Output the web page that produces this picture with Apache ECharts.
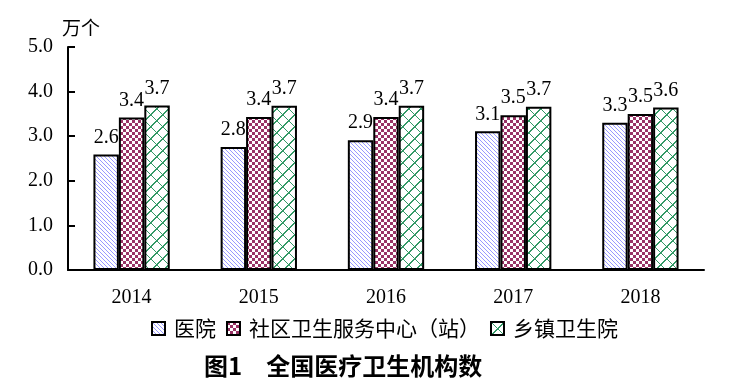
<!DOCTYPE html>
<html><head><meta charset="utf-8">
<script src="https://cdn.jsdelivr.net/npm/echarts@6/dist/echarts.min.js"></script>
<style>html,body{margin:0;padding:0;background:#fff}#c{width:737px;height:390px}</style>
</head><body><div id="c"></div>
<script>
const categories = ['2014','2015','2016','2017','2018'];
const hospitals = [2.59, 2.76, 2.91, 3.11, 3.30];
const community = [3.42, 3.43, 3.43, 3.47, 3.50];
const township = [3.69, 3.68, 3.68, 3.66, 3.646];
const yTicks = [0, 1, 2, 3, 4, 5];
const seriesNames = ['医院', '社区卫生服务中心（站）', '乡镇卫生院'];

function tile(w, h, fg, test) {
  const c = document.createElement('canvas');
  c.width = w; c.height = h;
  const g = c.getContext('2d');
  g.fillStyle = '#fff'; g.fillRect(0, 0, w, h);
  g.fillStyle = fg;
  for (let y = 0; y < h; y++) for (let x = 0; x < w; x++) if (test(x, y)) g.fillRect(x, y, 1, 1);
  return { image: c, repeat: 'repeat' };
}
const patHosp = tile(8, 8, '#9999ff', (x, y) => ((x - y + 16) % 4) === 0);
const patComm = tile(6, 6, '#993366', (x, y) => ((Math.floor(x / 3) + Math.floor(y / 3)) % 2) === 0);
const patTown = tile(12, 12, '#339966', (x, y) => {
  const a = (x + y) % 12, b = (x - y + 24) % 12;
  return a === 0 || a === 1 || b === 0;
});

const serif = '"Liberation Serif", "Noto Sans CJK SC", serif';
const cjk = '"Noto Sans CJK SC", sans-serif';

function mk(name, data, pat) {
  return {
    name: name, type: 'bar', data: data,
    barGap: '0%', barCategoryGap: '40%',
    itemStyle: { color: pat, borderColor: '#000', borderWidth: 2 },
    label: {
      show: true, position: 'top', distance: 7,
      color: '#000', fontFamily: serif, fontSize: 20,
      formatter: p => p.value.toFixed(1)
    }
  };
}

const chart = echarts.init(document.getElementById('c'));
chart.setOption({
  animation: false,
  grid: { left: 68, right: 33, top: 47, bottom: 120 },
  title: {
    text: '图1　全国医疗卫生机构数', left: 199, top: 349,
    textStyle: { fontFamily: cjk, fontSize: 24, fontWeight: 'bold', color: '#000' }
  },
  legend: {
    left: 146, top: 313, itemWidth: 13, itemHeight: 13, itemGap: 10, icon: 'rect',
    data: seriesNames,
    itemStyle: { borderColor: '#000', borderWidth: 2 },
    textStyle: { fontFamily: cjk, fontSize: 21, color: '#000', padding: [0, 0, 0, 4] }
  },
  xAxis: {
    type: 'category', data: categories,
    axisLine: { lineStyle: { color: '#000', width: 2 } },
    axisTick: { inside: true, length: 7, lineStyle: { color: '#000', width: 2 } },
    axisLabel: { color: '#000', fontFamily: serif, fontSize: 20, margin: 18 }
  },
  yAxis: {
    type: 'value', min: yTicks[0], max: yTicks[yTicks.length - 1], interval: 1,
    name: '万个', nameLocation: 'end', nameGap: 10,
    nameTextStyle: { fontFamily: cjk, fontSize: 19, color: '#000', align: 'left', padding: [0, 0, 0, -6] },
    splitLine: { show: false },
    axisLine: { show: true, lineStyle: { color: '#000', width: 2 } },
    axisTick: { show: true, inside: true, length: 7, lineStyle: { color: '#000', width: 2 } },
    axisLabel: { color: '#000', fontFamily: serif, fontSize: 20, margin: 15, formatter: v => v.toFixed(1) }
  },
  series: [mk(seriesNames[0], hospitals, patHosp), mk(seriesNames[1], community, patComm), mk(seriesNames[2], township, patTown)]
});
</script></body></html>
